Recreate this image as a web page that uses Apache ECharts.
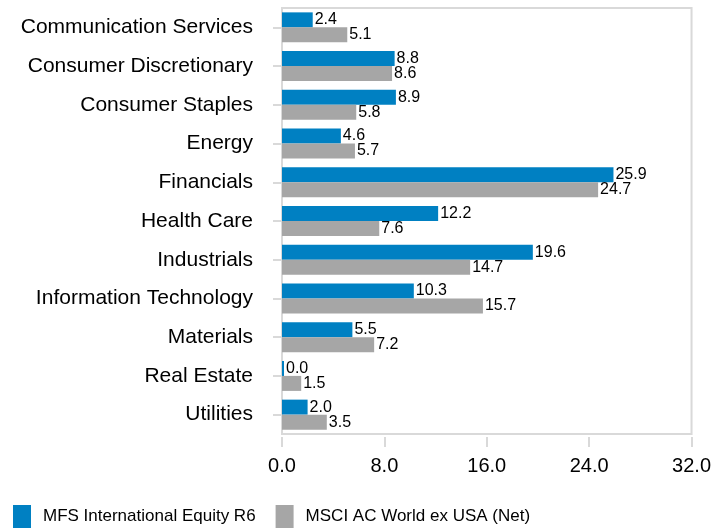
<!DOCTYPE html>
<html>
<head>
<meta charset="utf-8">
<script src="https://cdn.jsdelivr.net/npm/echarts@6/dist/echarts.min.js"></script>
<style>
  html, body { margin: 0; padding: 0; background: #fff; }
  #chart { width: 714px; height: 529px; }
</style>
</head>
<body>
<div id="chart"></div>
<script>
// Sector weights (%), fund vs. benchmark
const sectors = [
  'Communication Services', 'Consumer Discretionary', 'Consumer Staples', 'Energy',
  'Financials', 'Health Care', 'Industrials', 'Information Technology',
  'Materials', 'Real Estate', 'Utilities'
];
const fundWeights = [2.4, 8.8, 8.9, 4.6, 25.9, 12.2, 19.6, 10.3, 5.5, 0.0, 2.0];
const benchWeights = [5.1, 8.6, 5.8, 5.7, 24.7, 7.6, 14.7, 15.7, 7.2, 1.5, 3.5];
const seriesNames = ['MFS International Equity R6', 'MSCI AC World ex USA (Net)'];
const xTicks = { min: 0, max: 32, interval: 8 };

const FONT = '"Liberation Sans", Arial, sans-serif';

const chart = echarts.init(document.getElementById('chart'), null, { renderer: 'canvas' });

const valueLabel = {
  show: true,
  position: 'right',
  distance: 2,
  color: '#000',
  fontFamily: FONT,
  fontSize: 16,
  formatter: p => p.value.toFixed(1)
};

chart.setOption({
  animation: false,
  grid: {
    left: 282, right: 21, top: 8, bottom: 95,
    show: true,
    borderColor: '#d9d9d9',
    borderWidth: 2,
    containLabel: false
  },
  legend: {
    left: 13,
    top: 505,
    padding: 0,
    itemWidth: 18,
    itemHeight: 23,
    itemGap: 20,
    icon: 'rect',
    selectedMode: false,
    textStyle: {
      fontFamily: FONT,
      fontSize: 17,
      color: '#000',
      padding: [0, 0, 0, 7]
    },
    data: seriesNames
  },
  xAxis: {
    type: 'value',
    min: xTicks.min,
    max: xTicks.max,
    interval: xTicks.interval,
    offset: 3,
    axisLine: { show: false },
    axisTick: { show: true, length: 10, lineStyle: { color: '#d9d9d9', width: 2 } },
    splitLine: { show: false },
    axisLabel: {
      margin: 19,
      color: '#000',
      fontFamily: FONT,
      fontSize: 20,
      formatter: v => v.toFixed(1)
    }
  },
  yAxis: {
    type: 'category',
    data: sectors,
    inverse: true,
    offset: 2,
    axisLine: { show: false },
    axisTick: { show: true, alignWithLabel: true, length: 9, lineStyle: { color: '#d9d9d9', width: 2 } },
    axisLabel: {
      margin: 27,
      color: '#000',
      fontFamily: FONT,
      fontSize: 21
    }
  },
  series: [
    {
      name: seriesNames[0],
      type: 'bar',
      data: fundWeights,
      barWidth: 15,
      barGap: '0%',
      barMinHeight: 2,
      itemStyle: { color: '#0080c2' },
      label: valueLabel
    },
    {
      name: seriesNames[1],
      type: 'bar',
      data: benchWeights,
      barWidth: 15,
      barGap: '0%',
      itemStyle: { color: '#a6a6a6' },
      label: valueLabel
    }
  ]
});
</script>
</body>
</html>
